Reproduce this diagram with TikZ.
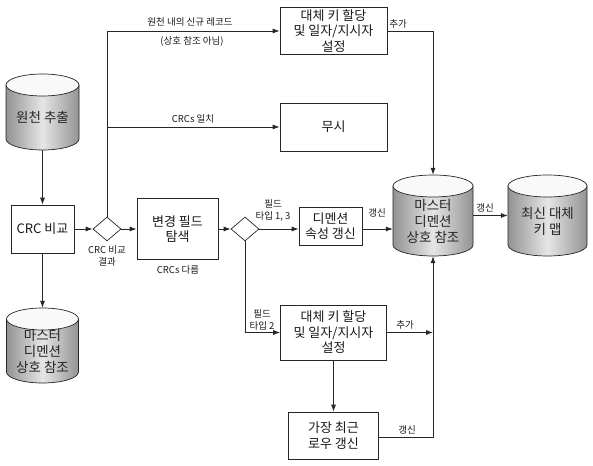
\documentclass[tikz,border=0pt]{standalone}
\usepackage{fontspec}
\setmainfont{Noto Sans CJK KR}
\usetikzlibrary{shapes.geometric,arrows.meta}
\tikzset{
  box/.style={draw=black!85, line width=0.7pt, fill=white, align=center, inner sep=2pt,
    font=\fontsize{13pt}{15.5pt}\selectfont, text=black!90},
  dec/.style={draw=black!85, line width=0.7pt, fill=white, shape=diamond, inner sep=0pt,
    minimum width=28pt, minimum height=24pt},
  lbl/.style={align=center, inner sep=0pt, font=\fontsize{9.5pt}{12pt}\selectfont, text=black!90},
  cyltext/.style={align=center, inner sep=0pt, font=\fontsize{13.5pt}{16pt}\selectfont, text=black!85},
  line/.style={draw=black!85, line width=0.8pt},
  arr/.style={line, -{Latex[length=7pt,width=5pt]}},
}
\newcommand\dbcyl[6]{%
  \pgfmathsetmacro\cyxl{#2-#5/2}%
  \pgfmathsetmacro\cyxr{#2+#5/2}%
  \pgfmathsetmacro\cyt{#3-11}%
  \pgfmathsetmacro\cyb{#4+11}%
  \pgfmathsetmacro\cyrx{#5/2}%
  \pgfmathsetmacro\cymid{(#3+#4)/2}%
  \pgfmathsetmacro\cyh{#3-#4}%
  \pgfmathsetmacro\cytm{(\cyt+#4)/2}%
  \path[left color=gray!85, right color=gray!85, middle color=gray!20, draw=black!85, line width=0.7pt]
    (\cyxl,\cyt) -- (\cyxl,\cyb) arc[start angle=180, end angle=360, x radius=\cyrx, y radius=11] -- (\cyxr,\cyt) -- cycle;
  \draw[fill=gray!5, draw=black!85, line width=0.7pt] (#2,\cyt) ellipse[x radius=\cyrx, y radius=11];
  \node[rectangle, minimum width=#5pt, minimum height=\cyh pt, inner sep=0pt] (#1) at (#2,\cymid) {};
  \node[cyltext] (#1t) at (#2,\cytm) {#6};
}
\begin{document}
\begin{tikzpicture}[x=1pt,y=1pt]
\useasboundingbox (0,0) rectangle (593,465);
% cylinders
\dbcyl{src}{42.5}{391}{315}{73}{원천 추출}
\dbcyl{mxl}{42.5}{157}{82}{72}{마스터\\디멘션\\상호 참조}
\dbcyl{mxc}{433}{290}{209}{80}{마스터\\디멘션\\상호 참조}
\dbcyl{map}{547.5}{290}{209}{79}{최신 대체\\키 맵}
% boxes
\node[box, minimum width=63pt, minimum height=48pt] (crc) at (42.5,236) {CRC 비교};
\node[dec] (d1) at (107,236) {};
\node[box, minimum width=81pt, minimum height=61pt] (chg) at (177.5,236) {변경 필드\\탐색};
\node[dec] (d2) at (245,236) {};
\node[box, minimum width=63pt, minimum height=38pt] (dim) at (330.5,239) {디멘션\\속성 갱신};
\node[box, minimum width=107pt, minimum height=47pt] (top) at (333.5,434) {대체 키 할당\\및 일자/지시자\\설정};
\node[box, minimum width=107pt, minimum height=48pt] (ign) at (333.5,338) {무시};
\node[box, minimum width=106pt, minimum height=55pt] (low) at (333.5,132.5) {대체 키 할당\\및 일자/지시자\\설정};
\node[box, minimum width=90pt, minimum height=47pt] (rec) at (333.5,29.5) {가장 최근\\로우 갱신};
% connectors
\coordinate (j1) at (107,434);
\draw[arr] (src) -- (crc);
\draw[arr] (crc) -- (mxl);
\draw[arr] (crc.east) -- (d1.west);
\draw[line] (d1.north) -- (j1);
\draw[arr] (j1) -- (j1 -| top.west);
\draw[arr] (d1.north |- ign.west) -- (ign.west);
\draw[arr] (d1.east) -- (chg.west);
\draw[arr] (chg.east) -- (d2.west);
\draw[arr] (d2.east) -- (d2.east -| dim.west);
\draw[arr] (dim.east |- d2.east) -- (mxc.west |- d2.east);
\draw[arr] (mxc.east) -- (map.west);
\draw[arr] (top.east |- j1) -| (mxc.north);
\draw[arr] (d2.south) |- (low.west);
\draw[arr] (low.east) -- (low.east -| mxc.south);
\draw[arr] (rec.east |- 0,28) -| (mxc.south);
\draw[arr] (low.south) -- (rec.north);
% labels
\node[lbl] (l1) at (190,443) {원천 내의 신규 레코드};
\node[lbl] (l2) at (192,424) {(상호 참조 아님)};
\node[lbl] (l3) at (193,346) {CRCs 일치};
\node[lbl] (l4) at (107,209) {CRC 비교\\결과};
\node[lbl] (l5) at (178,195) {CRCs 다름};
\node[lbl] (l6) at (273,255) {필드\\타입 1, 3};
\node[lbl] (l7) at (377,252) {갱신};
\node[lbl] (l8) at (485,257) {갱신};
\node[lbl] (l9) at (398,441) {추가};
\node[lbl] (l10) at (262,145) {필드\\타입 2};
\node[lbl] (l11) at (405,140) {추가};
\node[lbl] (l12) at (407,35) {갱신};
\end{tikzpicture}
\end{document}
